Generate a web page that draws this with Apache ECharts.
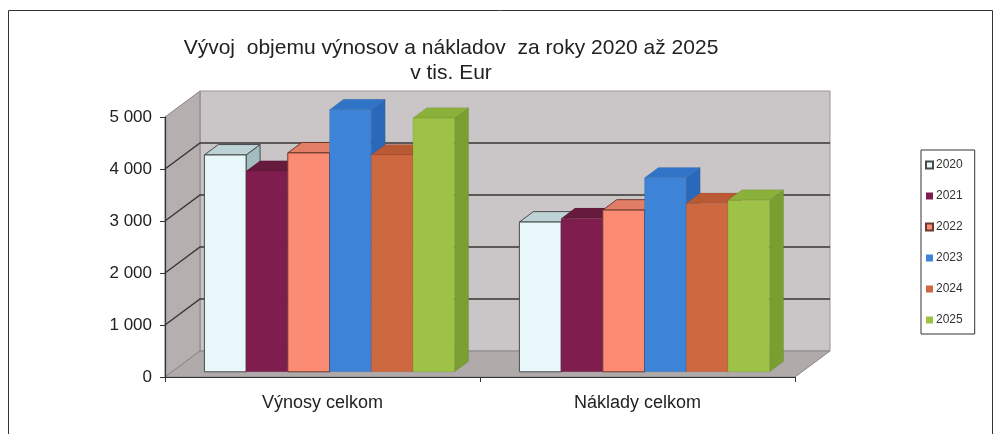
<!DOCTYPE html>
<html>
<head>
<meta charset="utf-8">
<script src="https://cdn.jsdelivr.net/npm/echarts@6/dist/echarts.min.js"></script>
<style>
  html, body { margin: 0; padding: 0; background: #fff; }
  #chart { width: 995px; height: 434px; }
</style>
</head>
<body>
<div id="chart"></div>
<script>
// data (v tis. Eur)
var categories = ['Výnosy celkom', 'Náklady celkom']
var years = ['2020', '2021', '2022', '2023', '2024', '2025']
var v2020 = [4170, 2880]
var v2021 = [3860, 2950]
var v2022 = [4210, 3110]
var v2023 = [5040, 3730]
var v2024 = [4170, 3240]
var v2025 = [4880, 3300]
var yTicks = [0, 1000, 2000, 3000, 4000, 5000]

var seriesValues = [v2020, v2021, v2022, v2023, v2024, v2025]

// colors: front, top, side, outline
var faceColors = [
  ['#e8f7f9', '#bdd3d6', '#a3bcc0', '#4a4a4a'],
  ['#7f1e4e', '#661a3c', '#571535', null],
  ['#fc8b74', '#e27e66', '#cf6e58', '#6a3a30'],
  ['#3d84d8', '#2f74c6', '#2968bb', null],
  ['#cd6841', '#b95a35', '#a6502e', null],
  ['#9dc245', '#8bb13a', '#7a9f30', null]
]

// oblique depth of the box (px) and where bars sit inside it
var depth = [35, -26]
var barFront = 0.2
var barDepth = 0.4
var barRatio = 0.1324

var chart = echarts.init(document.getElementById('chart'))

function wallsItem(params, api) {
  var c0 = api.coord([0, 0])
  var c1 = api.coord([categories.length - 1, 0])
  var band = api.size([1, 0])[0]
  var xL = c0[0] - band / 2, xR = c1[0] + band / 2
  var y0 = c0[1]
  var yTop = api.coord([0, yTicks[yTicks.length - 1]])[1]
  var dx = depth[0], dy = depth[1]
  var kids = []
  // back wall
  kids.push({type: 'polygon', shape: {points: [[xL + dx, yTop + dy], [xR + dx, yTop + dy], [xR + dx, y0 + dy], [xL + dx, y0 + dy]]},
    style: {fill: '#cac5c7', stroke: '#9a9496', lineWidth: 1}})
  // left wall
  kids.push({type: 'polygon', shape: {points: [[xL, yTop], [xL + dx, yTop + dy], [xL + dx, y0 + dy], [xL, y0]]},
    style: {fill: '#b5afaf', stroke: '#8a8484', lineWidth: 1}})
  // floor
  kids.push({type: 'polygon', shape: {points: [[xL, y0], [xR, y0], [xR + dx, y0 + dy], [xL + dx, y0 + dy]]},
    style: {fill: '#b0aaaa', stroke: '#8a8484', lineWidth: 1}})
  for (var i = 1; i < yTicks.length - 1; i++) {
    var y = api.coord([0, yTicks[i]])[1]
    kids.push({type: 'polyline', shape: {points: [[xL, y], [xL + dx, y + dy], [xR + dx, y + dy]]},
      style: {fill: null, stroke: '#3a3636', lineWidth: 1.4}})
  }
  return {type: 'group', children: kids}
}

function barItem(k) {
  return function (params, api) {
    var cat = api.value(0)
    var top = api.coord([cat, api.value(1)])
    var base = api.coord([cat, 0])
    var band = api.size([1, 0])[0]
    var bw = band * barRatio
    var fx = depth[0] * barFront, fy = depth[1] * barFront
    var tx = depth[0] * barDepth, ty = depth[1] * barDepth
    var x0 = top[0] - bw * years.length / 2 + k * bw + fx
    var x1 = x0 + bw
    var yT = top[1] + fy
    var yB = base[1] + fy
    var col = faceColors[k]
    var stroke = col[3] || 'rgba(0,0,0,0.15)'
    var lw = col[3] ? 1 : 0.5
    return {
      type: 'group',
      children: [
        {type: 'polygon', shape: {points: [[x1, yT], [x1 + tx, yT + ty], [x1 + tx, yB + ty], [x1, yB]]},
          style: {fill: col[2], stroke: stroke, lineWidth: lw}},
        {type: 'polygon', shape: {points: [[x0, yT], [x1, yT], [x1 + tx, yT + ty], [x0 + tx, yT + ty]]},
          style: {fill: col[1], stroke: stroke, lineWidth: lw}},
        {type: 'rect', shape: {x: x0, y: yT, width: bw, height: yB - yT},
          style: {fill: col[0], stroke: stroke, lineWidth: lw}}
      ]
    }
  }
}

var series = [{
  type: 'custom',
  name: 'walls',
  silent: true,
  z: 1,
  renderItem: wallsItem,
  data: [[0, 0]]
}]
years.forEach(function (y, k) {
  series.push({
    type: 'custom',
    name: y,
    z: 3,
    itemStyle: {color: faceColors[k][0], borderColor: faceColors[k][3] || faceColors[k][0], borderWidth: faceColors[k][3] ? 1 : 0},
    renderItem: barItem(k),
    data: seriesValues[k].map(function (v, i) { return [i, v] })
  })
})

chart.setOption({
  animation: false,
  textStyle: {fontFamily: 'Liberation Sans, Arial, sans-serif'},
  title: {
    text: 'Vývoj  objemu výnosov a nákladov  za roky 2020 až 2025\nv tis. Eur',
    left: 446,
    textAlign: 'center',
    top: 31,
    textStyle: {fontSize: 21, fontWeight: 'normal', color: '#222', lineHeight: 25}
  },
  legend: {
    orient: 'vertical',
    left: 921,
    top: 150,
    data: years,
    icon: 'rect',
    itemWidth: 7,
    itemHeight: 7,
    itemGap: 19,
    padding: [9, 12, 8, 4],
    borderColor: '#333',
    borderWidth: 1,
    selectedMode: false,
    textStyle: {fontSize: 12, color: '#333', padding: [0, 0, 0, -2]}
  },
  grid: {left: 165, top: 117, width: 630, height: 260},
  xAxis: {
    type: 'category',
    data: categories,
    z: 5,
    axisLine: {lineStyle: {color: '#333', width: 1.2}},
    axisTick: {show: true, length: 5, lineStyle: {color: '#333'}},
    axisLabel: {fontSize: 18, color: '#222', margin: 17}
  },
  yAxis: {
    type: 'value',
    min: 0,
    max: 5000,
    interval: 1000,
    z: 5,
    axisLine: {show: true, lineStyle: {color: '#333', width: 1.2}},
    axisTick: {show: true, length: 5, lineStyle: {color: '#333'}},
    splitLine: {show: false},
    axisLabel: {
      fontSize: 17, color: '#222', margin: 13,
      formatter: function (v) { return String(v).replace(/\B(?=(\d{3})+(?!\d))/g, ' ') }
    }
  },
  graphic: [{
    type: 'rect',
    silent: true,
    shape: {x: 8.5, y: 10.5, width: 984, height: 440},
    style: {fill: null, stroke: '#333', lineWidth: 1}
  }],
  series: series
})
</script>
</body>
</html>
